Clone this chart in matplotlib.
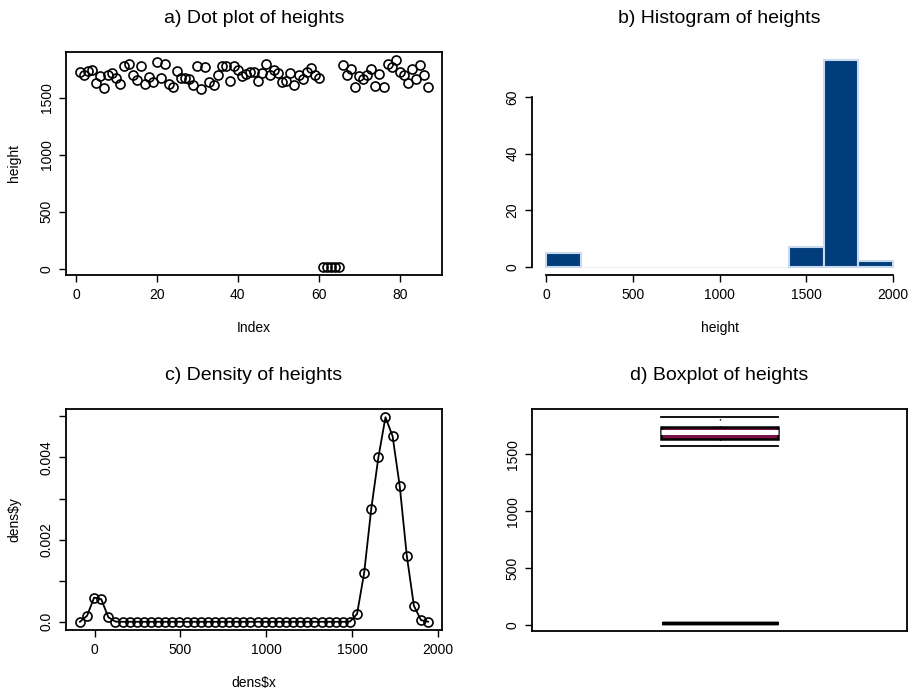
import matplotlib
matplotlib.use('Agg')
import matplotlib.pyplot as plt
import numpy as np

plt.rcParams['font.family'] = ['Liberation Sans', 'DejaVu Sans']

# ---- data ----
heights = [1725, 1702, 1731, 1743, 1628, 1690, 1584, 1702, 1719, 1675,
           1622, 1778, 1796, 1702, 1657, 1775, 1622, 1684, 1637, 1816,
           1672, 1798, 1622, 1589, 1737, 1672, 1675, 1666, 1613, 1778,
           1575, 1766, 1637, 1613, 1695, 1778, 1778, 1646, 1778, 1743,
           1690, 1708, 1725, 1725, 1644, 1719, 1792, 1695, 1744, 1715,
           1637, 1644, 1719, 1611, 1702, 1660, 1728, 1763, 1702, 1672,
           20, 20, 20, 20, 20,
           1790, 1695, 1755, 1593, 1690, 1666, 1695, 1748, 1598, 1710,
           1593, 1796, 1770, 1828, 1725, 1695, 1631, 1755, 1660, 1790,
           1702, 1593]

hist_breaks = [0, 200, 400, 600, 800, 1000, 1200, 1400, 1600, 1800, 2000]

dens_x = [-85.0, -43.6, -2.3, 39.1, 80.4, 121.8, 163.1, 204.5, 245.8, 287.2,
          328.5, 369.9, 411.2, 452.6, 493.9, 535.3, 576.6, 618.0, 659.3, 700.7,
          742.0, 783.4, 824.7, 866.1, 907.4, 948.8, 990.1, 1031.5, 1072.8, 1114.2,
          1155.5, 1196.9, 1238.2, 1279.6, 1320.9, 1362.3, 1403.6, 1445.0, 1486.3, 1527.7,
          1569.0, 1610.4, 1651.7, 1693.1, 1734.4, 1775.8, 1817.1, 1858.5, 1899.8, 1941.2]
dens_y = [0.00000, 0.000145, 0.00059, 0.00055, 0.00011, 0.000005, 0.0, 0.0, 0.0, 0.0,
          0.0, 0.0, 0.0, 0.0, 0.0, 0.0, 0.0, 0.0, 0.0, 0.0,
          0.0, 0.0, 0.0, 0.0, 0.0, 0.0, 0.0, 0.0, 0.0, 0.0,
          0.0, 0.0, 0.0, 0.0, 0.0, 0.0, 0.0, 0.0, 0.000005, 0.00019,
          0.00119, 0.00275, 0.00400, 0.00498, 0.00452, 0.00331, 0.00161, 0.00039, 0.00004, 0.000002]

titles = ['a) Dot plot of heights', 'b) Histogram of heights',
          'c) Density of heights', 'd) Boxplot of heights']

# ---- figure ----
W, H = 910, 696
fig = plt.figure(figsize=(W / 100, H / 100), dpi=100)


def rect(l, t, r, b):
    return [l / W, 1 - b / H, (r - l) / W, (b - t) / H]


def r_style(ax):
    ax.tick_params(direction='out', length=5, width=1, labelsize=10, pad=4, colors='black')
    for s in ax.spines.values():
        s.set_linewidth(1.3)
    for lab in ax.get_yticklabels():
        lab.set_rotation(90)
        lab.set_va('center')


TFS = 14
TPAD = 21
LFS = 10

# a) dot plot
ax = fig.add_axes(rect(66, 52, 442, 275))
idx = np.arange(1, len(heights) + 1)
ax.plot(idx, heights, 'o', mfc='none', mec='black', ms=6.5, mew=1.2)
ax.set_xlim(-2.44, 90.44)
ax.set_ylim(-54, 1900)
ax.set_xticks([0, 20, 40, 60, 80])
ax.set_yticks([0, 500, 1000, 1500])
ax.set_xlabel('Index', fontsize=LFS, labelpad=14)
ax.set_ylabel('height', fontsize=LFS, labelpad=13)
ax.set_title(titles[0], fontsize=TFS, pad=TPAD)
r_style(ax)

# b) histogram
ax = fig.add_axes(rect(532, 52, 907, 275))
counts, _, patches = ax.hist(heights, bins=hist_breaks, color='#003d7a',
                             edgecolor='#c9d9ee', linewidth=1.5)
for c, p in zip(counts, patches):
    if c == 0:
        p.set_edgecolor('#eef1f5')
        p.set_linewidth(0.8)
ax.set_xlim(-80, 2080)
ax.set_ylim(-2.92, 75.92)
ax.set_xticks([0, 500, 1000, 1500, 2000])
ax.set_yticks([0, 20, 40, 60])
ax.spines['top'].set_visible(False)
ax.spines['right'].set_visible(False)
ax.spines['bottom'].set_bounds(0, 2000)
ax.spines['left'].set_bounds(0, 60)
ax.set_xlabel('height', fontsize=LFS, labelpad=14)
ax.set_title(titles[1], fontsize=TFS, pad=TPAD)
r_style(ax)

# c) density
ax = fig.add_axes(rect(66, 409, 442, 630))
ax.plot(dens_x, dens_y, '-o', color='black', lw=1.3, mfc='none', mec='black', ms=6.5, mew=1.2)
ax.set_xlim(-166, 2022)
ax.set_ylim(-0.0002, 0.00518)
ax.set_xticks([0, 500, 1000, 1500, 2000])
ax.set_yticks([0, 0.001, 0.002, 0.003, 0.004, 0.005])
ax.set_yticklabels(['0.0', '', '0.002', '', '0.004', ''])
ax.set_xlabel('dens$x', fontsize=LFS, labelpad=14)
ax.set_ylabel('dens$y', fontsize=LFS, labelpad=13)
ax.set_title(titles[2], fontsize=TFS, pad=TPAD)
r_style(ax)

# d) boxplot
ax = fig.add_axes(rect(532, 409, 907, 631))
bw = 0.311
ax.boxplot(heights, positions=[1], widths=bw, patch_artist=True, whis=1.5,
           boxprops=dict(facecolor='#7a1048', edgecolor='black', linewidth=1.8),
           medianprops=dict(color='white', linewidth=3.6),
           whiskerprops=dict(color='black', linestyle=(0, (1, 4)), linewidth=1),
           capprops=dict(color='black', linewidth=1.3), capwidths=bw,
           flierprops=dict(marker='_', markersize=84, markeredgewidth=2.3,
                           markeredgecolor='black'))
ax.set_xlim(0.5, 1.5)
ax.set_ylim(-54, 1900)
ax.set_xticks([])
ax.set_yticks([0, 500, 1000, 1500])
ax.set_title(titles[3], fontsize=TFS, pad=TPAD)
r_style(ax)

fig.savefig('out.png', dpi=100)
